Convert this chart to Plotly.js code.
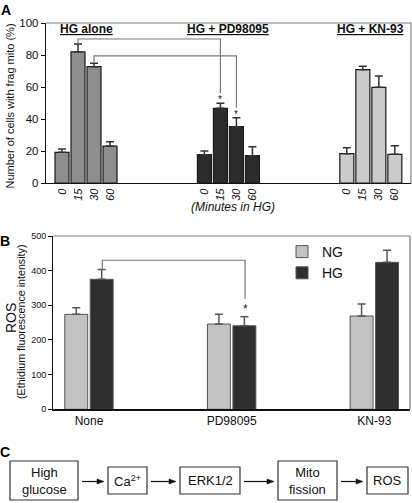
<!DOCTYPE html>
<html>
<head>
<meta charset="utf-8">
<script src="https://cdn.plot.ly/plotly-3.0.1.min.js"></script>
<style>html,body{margin:0;padding:0;background:#fff}#chart{width:412px;height:503px}</style>
</head>
<body>
<div id="chart"></div>
<script>
// ---------- DATA ----------
const timeLabels = ['0', '15', '30', '60'];
const groupNamesA = ['HG alone', 'HG + PD98095', 'HG + KN-93'];
const hgAlone = [19.2, 82, 72.7, 23.1];
const hgAloneErr = [2.0, 4.9, 2.1, 2.7];
const hgPD = [17.7, 46.7, 35.2, 17.1];
const hgPDErr = [2.3, 3.1, 5.6, 5.6];
const hgKN = [18.3, 70.8, 59.8, 17.9];
const hgKNErr = [3.7, 2.1, 7.1, 5.4];

const categoriesB = ['None', 'PD98095', 'KN-93'];
const ngB = [274, 246, 269];
const ngBErr = [19, 28, 35];
const hgB = [375, 241, 424];
const hgBErr = [28, 26, 35];

const pathwaySteps = ['High<br>glucose', 'Ca<sup>2+</sup>', 'ERK1/2', 'Mito<br>fission', 'ROS'];

// ---------- LAYOUT CONSTANTS ----------
const W = 412, H = 503;
const px = x => x / W;
const py = y => 1 - y / H;
const FONT = 'Arial, "Liberation Sans", sans-serif';
const groupGap = 8.9;
const pos = (g, t) => g * groupGap + t;
const colorsA = ['#8e8e8e', '#2b2b2b', '#cbcbcb'];
const seriesA = [hgAlone, hgPD, hgKN];
const errA = [hgAloneErr, hgPDErr, hgKNErr];

const traces = seriesA.map((vals, g) => ({
  type: 'bar',
  x: timeLabels.map((_, t) => pos(g, t)),
  y: vals,
  width: 0.875,
  offset: -0.4375,
  xaxis: 'x', yaxis: 'y',
  marker: {color: colorsA[g], line: {color: '#1a1a1a', width: 1.2}},
  error_y: {type: 'data', symmetric: false, array: errA[g], arrayminus: vals.map(() => 0),
            color: '#333', thickness: 1.5, width: 4},
  showlegend: false,
  hoverinfo: 'skip'
}));

traces.push({
  type: 'bar', name: 'NG', x: categoriesB, y: ngB, xaxis: 'x2', yaxis: 'y2',
  marker: {color: '#c2c2c2', line: {color: '#555', width: 1}},
  error_y: {type: 'data', symmetric: false, array: ngBErr, arrayminus: ngB.map(() => 0),
            color: '#555', thickness: 1.5, width: 4}
});
traces.push({
  type: 'bar', name: 'HG', x: categoriesB, y: hgB, xaxis: 'x2', yaxis: 'y2',
  marker: {color: '#2e2e2e', line: {color: '#555', width: 1}},
  error_y: {type: 'data', symmetric: false, array: hgBErr, arrayminus: hgB.map(() => 0),
            color: '#555', thickness: 1.5, width: 4}
});

const shapes = [];
const annotations = [];
const grayLine = {color: '#7a7a7a', width: 1.2};
const C = {showarrow: false, xanchor: 'center', yanchor: 'middle'};

// frame (top/right) for A and B
[['x', 'y'], ['x2', 'y2']].forEach(([xa, ya]) => {
  shapes.push({type: 'line', xref: xa + ' domain', yref: ya + ' domain', x0: 0, x1: 1, y0: 1, y1: 1, line: grayLine});
  shapes.push({type: 'line', xref: xa + ' domain', yref: ya + ' domain', x0: 1, x1: 1, y0: 0, y1: 1, line: grayLine});
});

// group labels A
groupNamesA.forEach((name, g) => {
  annotations.push(Object.assign({xref: 'x', yref: 'y', x: pos(g, 1.5), y: 96.3, text: '<b><u>' + name + '</u></b>',
    font: {family: FONT, size: 12, color: '#111'}}, C));
});

// significance brackets A
const bracketsA = [{t: 1, level: 90}, {t: 2, level: 79.5}];
bracketsA.forEach(b => {
  const xl = pos(0, b.t), xr = pos(1, b.t);
  const yl = hgAlone[b.t] + hgAloneErr[b.t] + 0.4;
  const yr = hgPD[b.t] + hgPDErr[b.t] + 6.3;
  shapes.push({type: 'path', xref: 'x', yref: 'y',
    path: `M${xl},${yl} L${xl},${b.level} L${xr},${b.level} L${xr},${yr}`, line: grayLine});
  annotations.push(Object.assign({xref: 'x', yref: 'y', x: xr, y: hgPD[b.t] + hgPDErr[b.t] + 2.2, text: '*',
    font: {family: FONT, size: 10, color: '#222'}}, C));
});

// bracket B
const offB = 0.094;
shapes.push({type: 'path', xref: 'x2', yref: 'y2',
  path: `M${0 + offB},${hgB[0] + hgBErr[0]} L${0 + offB},430 L${1 + offB},430 L${1 + offB},318`, line: grayLine});
annotations.push(Object.assign({xref: 'x2', yref: 'y2', x: 1 + offB, y: 288, text: '*',
  font: {family: FONT, size: 12, color: '#222'}}, C));

// axis titles / panel letters
annotations.push(Object.assign({xref: 'paper', yref: 'paper', x: px(9.5), y: py(106), text: 'Number of cells with frag mito (%)',
  textangle: -90, font: {family: FONT, size: 11, color: '#111'}}, C));
annotations.push(Object.assign({xref: 'paper', yref: 'paper', x: px(233), y: py(207), text: '<i>(Minutes in HG)</i>',
  font: {family: FONT, size: 12, color: '#111'}}, C));
annotations.push(Object.assign({xref: 'paper', yref: 'paper', x: px(11), y: py(318), text: 'ROS',
  textangle: -90, font: {family: FONT, size: 14, color: '#111'}}, C));
annotations.push(Object.assign({xref: 'paper', yref: 'paper', x: px(21), y: py(322), text: '(Ethidium fluorescence intensity)',
  textangle: -90, font: {family: FONT, size: 10.7, color: '#111'}}, C));
annotations.push({xref: 'paper', yref: 'paper', x: px(6), y: py(0), xanchor: 'center', yanchor: 'top',
  showarrow: false, text: '<b>A</b>', font: {family: FONT, size: 14, color: '#000'}});
[['B', 5, 241], ['C', 5, 452]].forEach(([L, x, y]) => {
  annotations.push(Object.assign({xref: 'paper', yref: 'paper', x: px(x), y: py(y), text: '<b>' + L + '</b>',
    font: {family: FONT, size: 14, color: '#000'}}, C));
});

// pathway diagram C
const boxes = [[10, 78, 461, 500], [108, 147, 467, 494], [180, 240, 467, 494], [278, 337, 461, 500], [367, 408, 467, 494]];
const arrowY = 481.5;
pathwaySteps.forEach((txt, i) => {
  const [x0, x1, y0, y1] = boxes[i];
  shapes.push({type: 'rect', xref: 'paper', yref: 'paper', x0: px(x0), x1: px(x1), y0: py(y1), y1: py(y0),
    line: {color: '#333', width: 1.2}, fillcolor: 'rgba(0,0,0,0)'});
  annotations.push(Object.assign({xref: 'paper', yref: 'paper', x: px((x0 + x1) / 2), y: py((y0 + y1) / 2), text: txt,
    font: {family: FONT, size: 13, color: '#111'}}, C));
  if (i < pathwaySteps.length - 1) {
    const tip = boxes[i + 1][0] - 4, start = x1 + 4;
    shapes.push({type: 'line', xref: 'paper', yref: 'paper', x0: px(start), x1: px(tip - 5), y0: py(arrowY), y1: py(arrowY),
      line: {color: '#111', width: 1.2}});
    shapes.push({type: 'path', xref: 'paper', yref: 'paper',
      path: `M${px(tip)},${py(arrowY)} L${px(tip - 7)},${py(arrowY - 2.6)} L${px(tip - 7)},${py(arrowY + 2.6)} Z`,
      fillcolor: '#111', line: {color: '#111', width: 0.5}});
  }
});

const layout = {
  width: W, height: H,
  margin: {l: 0, r: 0, t: 0, b: 0},
  paper_bgcolor: '#fff', plot_bgcolor: '#fff',
  font: {family: FONT, color: '#111'},
  barmode: 'group', bargap: 0.643, bargroupgap: 0.1,
  showlegend: true,
  legend: {x: px(282), y: py(236), xanchor: 'left', yanchor: 'top', bgcolor: 'rgba(0,0,0,0)',
    font: {family: FONT, size: 14, color: '#111'}, itemwidth: 30, tracegroupgap: 0},
  xaxis: {domain: [px(46), px(411)], anchor: 'y', range: [-1, 21.81], showgrid: false, zeroline: false,
    showline: true, linecolor: '#111', linewidth: 1.2, ticks: '',
    tickvals: seriesA.flatMap((_, g) => timeLabels.map((__, t) => pos(g, t))),
    ticktext: seriesA.flatMap(() => timeLabels), tickangle: -90,
    tickfont: {family: FONT, size: 11, style: 'italic', color: '#111'}},
  yaxis: {domain: [py(183), py(23)], anchor: 'x', range: [0, 100], dtick: 20, showgrid: false, zeroline: false,
    showline: true, linecolor: '#111', linewidth: 1.2, ticks: 'outside', ticklen: 4, tickcolor: '#111',
    tickfont: {family: FONT, size: 11.5, color: '#111'}},
  xaxis2: {domain: [px(53.3), px(410)], anchor: 'y2', range: [-0.25, 2.25], type: 'category', showgrid: false,
    zeroline: false, showline: true, linecolor: '#111', linewidth: 1.2, ticks: '',
    tickfont: {family: FONT, size: 12, color: '#111'}},
  yaxis2: {domain: [py(409.3), py(236)], anchor: 'x2', range: [0, 500], dtick: 100, showgrid: false, zeroline: false,
    showline: true, linecolor: '#111', linewidth: 1.2, ticks: 'outside', ticklen: 4, tickcolor: '#111',
    tickfont: {family: FONT, size: 9, color: '#111'}},
  shapes: shapes,
  annotations: annotations
};

Plotly.newPlot('chart', traces, layout, {displayModeBar: false, staticPlot: true});
</script>
</body>
</html>
